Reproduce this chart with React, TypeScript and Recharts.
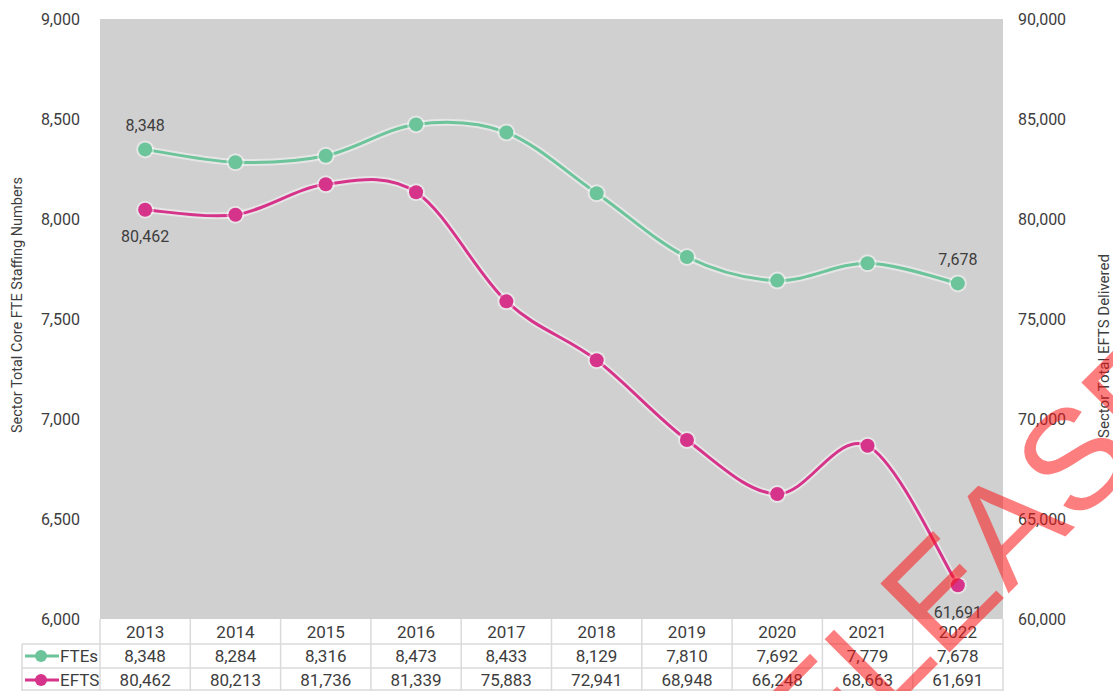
import React from 'react';
import { ComposedChart, Line, XAxis, YAxis, CartesianGrid, LabelList } from 'recharts';

// Sector staffing (FTEs) and delivered EFTS, 2013-2022
const years = ['2013', '2014', '2015', '2016', '2017', '2018', '2019', '2020', '2021', '2022'];
const ftes = [8348, 8284, 8316, 8473, 8433, 8129, 7810, 7692, 7779, 7678];
const efts = [80462, 80213, 81736, 81339, 75883, 72941, 68948, 66248, 68663, 61691];
const fteTicks = [6000, 6500, 7000, 7500, 8000, 8500, 9000];
const eftsTicks = [60000, 65000, 70000, 75000, 80000, 85000, 90000];

const data = years.map((year, i) => ({ year, fte: ftes[i], efts: efts[i] }));

const W = 1113;
const H = 691;
const FONT = 'Roboto, "Liberation Sans", sans-serif';
const TEXT = '#3d3d3d';
const GREEN = '#6cc49a';
const PINK = '#d6338a';
const GRID = '#dadada';

// table geometry under the plot
const T_TOP = 619;
const T_ROW1 = 644;
const T_ROW2 = 668;
const T_BOT = 691;

const fmt = (v: number) => v.toLocaleString('en-US');

// Smooth curve in the style of spreadsheet "smoothed lines" (Catmull-Rom Bezier)
function smoothCurve(context: any) {
  let pts: number[][] = [];
  return {
    areaStart() {},
    areaEnd() {},
    lineStart() {
      pts = [];
    },
    point(x: number, y: number) {
      pts.push([+x, +y]);
    },
    lineEnd() {
      const n = pts.length;
      if (!n) return;
      context.moveTo(pts[0][0], pts[0][1]);
      const t = 1 / 6;
      for (let i = 0; i < n - 1; i++) {
        const p0 = pts[i - 1] || pts[i];
        const p1 = pts[i];
        const p2 = pts[i + 1];
        const p3 = pts[i + 2] || p2;
        context.bezierCurveTo(
          p1[0] + (p2[0] - p0[0]) * t,
          p1[1] + (p2[1] - p0[1]) * t,
          p2[0] - (p3[0] - p1[0]) * t,
          p2[1] - (p3[1] - p1[1]) * t,
          p2[0],
          p2[1]
        );
      }
    },
  };
}

// One table column per year: year, FTEs, EFTS
const TableColumn = (props: any) => {
  const { x, payload, visibleTicksCount, width } = props;
  const i: number = payload?.index ?? props.index ?? 0;
  const count = visibleTicksCount || years.length;
  const colW = width && count ? width / count : 90.3;
  const left = x - colW / 2;
  const right = x + colW / 2;
  const txt = { fontFamily: FONT, fontSize: 17, fill: TEXT, textAnchor: 'middle' as const };
  return (
    <g>
      <line x1={left} y1={T_TOP} x2={left} y2={T_BOT} stroke={GRID} strokeWidth={1.5} />
      {i === count - 1 && <line x1={right} y1={T_TOP} x2={right} y2={T_BOT} stroke={GRID} strokeWidth={1.5} />}
      <line x1={left} y1={T_ROW1} x2={right} y2={T_ROW1} stroke={GRID} strokeWidth={1.5} />
      <line x1={left} y1={T_ROW2} x2={right} y2={T_ROW2} stroke={GRID} strokeWidth={1.5} />
      <line x1={left} y1={T_BOT - 1} x2={right} y2={T_BOT - 1} stroke={GRID} strokeWidth={1.5} />
      <text x={x} y={638} {...txt}>{payload.value}</text>
      <text x={x} y={662} {...txt}>{fmt(ftes[i])}</text>
      <text x={x} y={686} {...txt}>{fmt(efts[i])}</text>
      {i === 0 && (
        <g>
          <line x1={22} y1={T_ROW1} x2={left} y2={T_ROW1} stroke={GRID} strokeWidth={1.5} />
          <line x1={22} y1={T_ROW2} x2={left} y2={T_ROW2} stroke={GRID} strokeWidth={1.5} />
          <line x1={22} y1={T_BOT - 1} x2={left} y2={T_BOT - 1} stroke={GRID} strokeWidth={1.5} />
          <line x1={22} y1={T_ROW1} x2={22} y2={T_BOT} stroke={GRID} strokeWidth={1.5} />
          <line x1={25} y1={656} x2={59} y2={656} stroke={GREEN} strokeWidth={3} />
          <circle cx={41} cy={656} r={6} fill={GREEN} />
          <text x={60} y={662} fontFamily={FONT} fontSize={17} fill={TEXT}>FTEs</text>
          <line x1={25} y1={680} x2={59} y2={680} stroke={PINK} strokeWidth={3} />
          <circle cx={41} cy={680} r={6} fill={PINK} />
          <text x={60} y={686} fontFamily={FONT} fontSize={17} fill={TEXT}>EFTS</text>
        </g>
      )}
    </g>
  );
};

// Value labels on the first and last points only
const endLabel = (offset: number) => (props: any) => {
  const { x, y, value, index } = props;
  if (index !== 0 && index !== years.length - 1) return null;
  return (
    <text x={x} y={y + offset} textAnchor="middle" dominantBaseline="central" fontFamily={FONT} fontSize={16} fill={TEXT}>
      {fmt(value)}
    </text>
  );
};

const axisTick = { fontFamily: FONT, fontSize: 16, fill: TEXT };

export default function App() {
  return (
    <div style={{ position: 'absolute', left: 0, top: 0, width: W, height: H, background: '#fff', overflow: 'hidden' }}>
      <ComposedChart width={W} height={H} data={data} margin={{ top: 19, right: 0, bottom: 0, left: 0 }}>
        <CartesianGrid horizontal={false} vertical={false} fill="#d1d0d1" stroke="none" />
        <XAxis
          dataKey="year"
          scale="band"
          height={72}
          axisLine={false}
          tickLine={false}
          interval={0}
          tick={<TableColumn />}
        />
        <YAxis
          yAxisId="l"
          domain={[6000, 9000]}
          ticks={fteTicks}
          width={100}
          axisLine={false}
          tickLine={false}
          tickSize={0}
          tickMargin={20}
          tick={axisTick}
          tickFormatter={fmt}
          label={{
            content: () => (
              <text x={17} y={305} transform="rotate(-90 17 305)" textAnchor="middle" dominantBaseline="central" fontFamily={FONT} fontSize={14.5} fill={TEXT}>
                Sector Total Core FTE Staffing Numbers
              </text>
            ),
          }}
        />
        <YAxis
          yAxisId="r"
          orientation="right"
          domain={[60000, 90000]}
          ticks={eftsTicks}
          width={110}
          axisLine={false}
          tickLine={false}
          tickSize={0}
          tickMargin={15}
          tick={{ ...axisTick, textAnchor: 'start' }}
          tickFormatter={fmt}
          label={{
            content: () => (
              <text x={1104} y={346} transform="rotate(-90 1104 346)" textAnchor="middle" dominantBaseline="central" fontFamily={FONT} fontSize={15} fill={TEXT}>
                Sector Total EFTS Delivered
              </text>
            ),
          }}
        />
        {/* soft white halo behind both series */}
        <Line yAxisId="l" dataKey="fte" type={smoothCurve as any} stroke="rgba(255,255,255,0.45)" strokeWidth={7} dot={{ r: 9, fill: 'rgba(255,255,255,0.45)', stroke: 'none' }} activeDot={false} isAnimationActive={false} legendType="none" />
        <Line yAxisId="r" dataKey="efts" type={smoothCurve as any} stroke="rgba(255,255,255,0.45)" strokeWidth={7} dot={{ r: 9, fill: 'rgba(255,255,255,0.45)', stroke: 'none' }} activeDot={false} isAnimationActive={false} legendType="none" />
        <Line yAxisId="l" dataKey="fte" name="FTEs" type={smoothCurve as any} stroke={GREEN} strokeWidth={3} dot={{ r: 7, fill: GREEN, stroke: 'none' }} activeDot={false} isAnimationActive={false}>
          <LabelList dataKey="fte" content={endLabel(-24)} />
        </Line>
        <Line yAxisId="r" dataKey="efts" name="EFTS" type={smoothCurve as any} stroke={PINK} strokeWidth={3} dot={{ r: 7, fill: PINK, stroke: 'none' }} activeDot={false} isAnimationActive={false}>
          <LabelList dataKey="efts" content={endLabel(27)} />
        </Line>
      </ComposedChart>
      {/* red approval stamp across the lower right */}
      <svg width={W} height={H} style={{ position: 'absolute', left: 0, top: 0, pointerEvents: 'none' }}>
        <text
          x={746}
          y={856}
          transform="rotate(-45 746 856)"
          textAnchor="start"
          fontFamily='"Liberation Sans", Arial, sans-serif'
          fontSize={142}
          fill="rgba(250,20,20,0.55)"
        >
          RELEASED
        </text>
      </svg>
    </div>
  );
}
